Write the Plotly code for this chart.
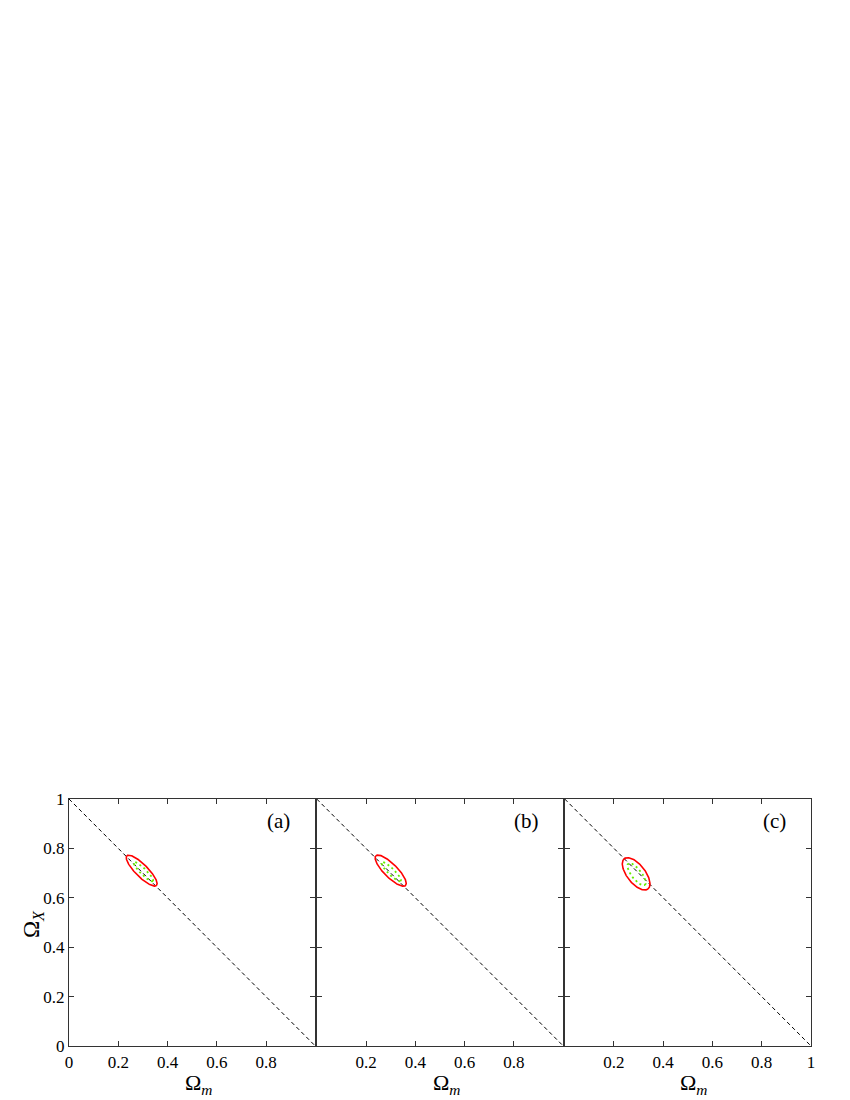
import numpy as np
import plotly.graph_objects as go

W, H = 850, 1100

panel_labels = ["(a)", "(b)", "(c)"]
# ellipse parameters: centre (Om, Ox), semi-major, semi-minor, angle (deg from +Om axis)
red_cx = [0.295, 0.300, 0.290]
red_cy = [0.710, 0.710, 0.697]
red_a = [0.085, 0.085, 0.078]
red_b = [0.025, 0.027, 0.037]
red_ang = [-45, -45, -52]

green_cx = [0.302, 0.302, 0.292]
green_cy = [0.706, 0.706, 0.695]
green_a = [0.055, 0.055, 0.055]
green_b = [0.012, 0.013, 0.020]
green_ang = [-45, -45, -52]

line_om = [0.0, 1.0]
line_ox = [1.0, 0.0]

x_tickvals = [[0, 0.2, 0.4, 0.6, 0.8], [0.2, 0.4, 0.6, 0.8], [0.2, 0.4, 0.6, 0.8, 1]]
x_ticktext = [["0", "0.2", "0.4", "0.6", "0.8"], ["0.2", "0.4", "0.6", "0.8"], ["0.2", "0.4", "0.6", "0.8", "1"]]
y_tickvals = [0, 0.2, 0.4, 0.6, 0.8, 1]
y_ticktext = ["0", "0.2", "0.4", "0.6", "0.8", "1"]

LW = 1.4
# pixel frame of panels (shared borders offset so the two axis lines coincide)
px_left = [61, 308 + LW / 2, 556 + LW / 2]
px_right = [308 - LW / 2, 556 - LW / 2, 803]
py_top, py_bot = 791, 1038

FONT = "Liberation Serif, Times New Roman, serif"


def ellipse(cx, cy, a, b, ang):
    t = np.linspace(0, 2 * np.pi, 200)
    th = np.deg2rad(ang)
    x = cx + a * np.cos(t) * np.cos(th) - b * np.sin(t) * np.sin(th)
    y = cy + a * np.cos(t) * np.sin(th) + b * np.sin(t) * np.cos(th)
    return x, y


fig = go.Figure()
for i in range(3):
    xa = "x" if i == 0 else f"x{i+1}"
    ya = "y" if i == 0 else f"y{i+1}"
    fig.add_trace(go.Scatter(x=line_om, y=line_ox, mode="lines", xaxis=xa, yaxis=ya,
                             line=dict(color="black", width=1, dash="4px,3px"), showlegend=False,
                             hoverinfo="skip"))
    ex, ey = ellipse(red_cx[i], red_cy[i], red_a[i], red_b[i], red_ang[i])
    fig.add_trace(go.Scatter(x=ex, y=ey, mode="lines", xaxis=xa, yaxis=ya,
                             line=dict(color="#ff0000", width=1.6), showlegend=False))
    gx, gy = ellipse(green_cx[i], green_cy[i], green_a[i], green_b[i], green_ang[i])
    fig.add_trace(go.Scatter(x=gx, y=gy, mode="lines", xaxis=xa, yaxis=ya,
                             line=dict(color="#66ee00", width=1.8, dash="2px,3px"), showlegend=False))

layout = dict(width=W, height=H, margin=dict(l=0, r=0, t=0, b=0, autoexpand=False),
              plot_bgcolor="white", paper_bgcolor="white", showlegend=False,
              font=dict(family=FONT, color="black"))

yd = [1 - py_bot / H, 1 - py_top / H]
annotations = []
for i in range(3):
    xk = "xaxis" if i == 0 else f"xaxis{i+1}"
    yk = "yaxis" if i == 0 else f"yaxis{i+1}"
    xa = "x" if i == 0 else f"x{i+1}"
    ya = "y" if i == 0 else f"y{i+1}"
    layout[xk] = dict(domain=[px_left[i] / W, px_right[i] / W], range=[0, 1], anchor=ya,
                      tickvals=x_tickvals[i], ticktext=x_ticktext[i], ticks="inside", ticklen=5,
                      tickcolor="#333", showline=True, linecolor="#333", linewidth=LW, mirror="ticks",
                      showgrid=False, zeroline=False, automargin=False,
                      tickfont=dict(size=17, family=FONT))
    layout[yk] = dict(domain=yd, range=[0, 1], anchor=xa,
                      tickvals=y_tickvals, ticktext=y_ticktext, ticks="inside", ticklen=5,
                      tickcolor="#333", showline=True, linecolor="#333", linewidth=LW, mirror="ticks",
                      showgrid=False, zeroline=False, showticklabels=(i == 0), automargin=False,
                      tickfont=dict(size=17, family=FONT))
    annotations.append(dict(text=panel_labels[i], xref=f"{xa} domain", yref=f"{ya} domain",
                            x=0.852, y=0.91, xanchor="center", yanchor="middle", showarrow=False,
                            font=dict(size=21, family=FONT)))
    annotations.append(dict(text="Ω<sub><i>m</i></sub>", xref="paper", yref="paper",
                            x=((px_left[i] + px_right[i]) / 2 + 6) / W, y=1 - 1076 / H,
                            xanchor="center", yanchor="middle", showarrow=False,
                            font=dict(size=22, family=FONT)))
annotations.append(dict(text="Ω<sub><i>X</i></sub>", xref="paper", yref="paper", x=25 / W,
                        y=1 - 916 / H, xanchor="center", yanchor="middle", textangle=-90,
                        showarrow=False, font=dict(size=23, family=FONT)))
layout["annotations"] = annotations
fig.update_layout(**layout)
fig.write_html("out.html")
